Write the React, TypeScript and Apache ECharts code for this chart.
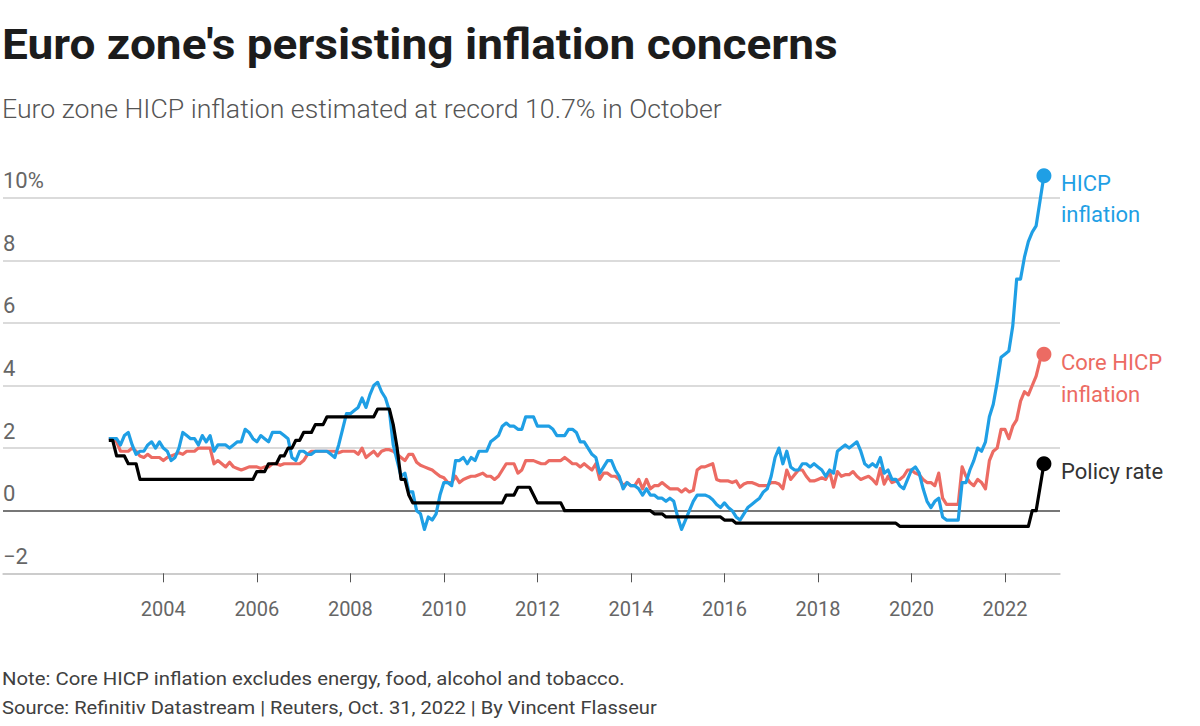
import React, { useEffect, useRef } from "react";
import * as echarts from "echarts";

// Monthly observations, Oct 2002 .. Oct 2022 (end-of-month positions)
const START_YEAR = 2002;
const START_MONTH = 10;

// Euro zone HICP inflation, % y/y
const hicp: number[] = [
  2.3, 2.3, 2.3,
  2.1, 2.4, 2.5, 2.1, 1.8, 1.9, 1.9, 2.1, 2.2, 2.0, 2.2, 2.0,
  1.9, 1.6, 1.7, 2.0, 2.5, 2.4, 2.3, 2.3, 2.1, 2.4, 2.2, 2.4,
  1.9, 2.1, 2.1, 2.1, 2.0, 2.1, 2.2, 2.2, 2.6, 2.5, 2.3, 2.2,
  2.4, 2.3, 2.2, 2.5, 2.5, 2.5, 2.4, 2.3, 1.7, 1.6, 1.9, 1.9,
  1.8, 1.8, 1.9, 1.9, 1.9, 1.9, 1.8, 1.7, 2.1, 2.6, 3.1, 3.1,
  3.2, 3.3, 3.6, 3.3, 3.7, 4.0, 4.1, 3.8, 3.6, 3.2, 2.1, 1.6,
  1.1, 1.2, 0.6, 0.6, 0.0, -0.1, -0.6, -0.2, -0.3, -0.1, 0.5, 0.9,
  0.9, 0.8, 1.6, 1.6, 1.7, 1.5, 1.7, 1.6, 1.9, 1.9, 1.9, 2.2,
  2.3, 2.4, 2.7, 2.8, 2.7, 2.7, 2.6, 2.6, 3.0, 3.0, 3.0, 2.7,
  2.7, 2.7, 2.7, 2.6, 2.4, 2.4, 2.4, 2.6, 2.6, 2.5, 2.2, 2.2,
  2.0, 1.8, 1.7, 1.2, 1.4, 1.6, 1.6, 1.3, 1.1, 0.7, 0.9, 0.8,
  0.8, 0.7, 0.5, 0.7, 0.5, 0.5, 0.4, 0.4, 0.3, 0.4, 0.3, -0.2,
  -0.6, -0.3, 0.0, 0.3, 0.5, 0.5, 0.5, 0.45, 0.35, 0.2, 0.1, 0.25,
  0.1, 0.0, -0.2, -0.3, -0.1, 0.1, 0.2, 0.3, 0.4, 0.6, 0.7, 1.1,
  1.7, 2.0, 1.5, 1.9, 1.4, 1.3, 1.3, 1.5, 1.5, 1.4, 1.5, 1.4,
  1.3, 1.1, 1.3, 1.2, 1.9, 2.0, 2.1, 2.0, 2.1, 2.2, 1.9, 1.5,
  1.4, 1.5, 1.4, 1.7, 1.2, 1.3, 1.0, 1.0, 0.8, 0.7, 1.0, 1.3,
  1.4, 1.2, 0.7, 0.3, 0.1, 0.3, 0.4, -0.2, -0.3, -0.3, -0.3, -0.3,
  0.9, 0.9, 1.3, 1.6, 2.0, 1.9, 2.2, 3.0, 3.4, 4.1, 4.9, 5.0,
  5.1, 5.9, 7.4, 7.4, 8.1, 8.6, 8.9, 9.1, 9.9, 10.7,
];

// Core HICP inflation (ex energy, food, alcohol and tobacco), % y/y
const coreHicp: number[] = [
  2.3, 2.3, 2.2,
  1.9, 1.9, 1.9, 2.0, 1.9, 1.75, 1.7, 1.8, 1.7, 1.7, 1.7, 1.6,
  1.7, 1.75, 1.8, 1.85, 1.8, 1.9, 1.9, 1.9, 2.0, 2.0, 2.0, 2.0,
  1.5, 1.6, 1.5, 1.4, 1.55, 1.4, 1.35, 1.3, 1.35, 1.4, 1.4, 1.4,
  1.35, 1.4, 1.4, 1.5, 1.5, 1.45, 1.5, 1.5, 1.5, 1.5, 1.5, 1.6,
  1.8, 1.9, 1.9, 1.9, 1.9, 1.9, 1.9, 1.9, 1.85, 1.9, 1.9, 1.9,
  1.9, 1.8, 2.0, 1.7, 1.8, 1.9, 1.75, 1.9, 1.95, 1.95, 1.9, 1.8,
  1.7, 1.6, 1.8, 1.8, 1.55, 1.45, 1.4, 1.35, 1.3, 1.2, 1.1, 1.05,
  0.9, 0.9, 1.1, 0.9, 1.0, 1.05, 1.1, 1.1, 1.15, 1.2, 1.1, 1.1,
  1.0, 1.1, 1.3, 1.5, 1.5, 1.5, 1.2, 1.3, 1.6, 1.6, 1.6, 1.55,
  1.5, 1.5, 1.6, 1.6, 1.6, 1.6, 1.7, 1.6, 1.5, 1.5, 1.4, 1.5,
  1.4, 1.3, 1.5, 1.0, 1.2, 1.2, 1.1, 1.1, 1.0, 0.8, 0.9, 0.8,
  0.8, 1.0, 0.7, 1.0, 0.7, 0.8, 0.8, 0.9, 0.8, 0.7, 0.7, 0.7,
  0.6, 0.7, 0.6, 0.65, 1.3, 1.4, 1.4, 1.45, 1.5, 1.0, 0.95, 0.95,
  0.95, 0.9, 0.95, 0.75, 0.85, 0.9, 0.9, 0.85, 0.8, 0.8, 0.8, 0.9,
  0.9, 0.85, 0.7, 1.3, 1.0, 1.15, 1.3, 1.3, 1.1, 0.95, 0.95, 1.0,
  1.05, 1.0, 1.25, 0.75, 1.25, 1.1, 1.15, 1.15, 1.25, 1.1, 1.0, 1.05,
  1.1, 1.0, 0.85, 1.35, 0.85, 1.1, 0.9, 0.95, 1.0, 1.1, 1.3, 1.3,
  1.2, 1.15, 1.0, 0.9, 0.9, 0.8, 1.2, 0.4, 0.2, 0.2, 0.2, 0.2,
  1.4, 1.1, 0.9, 0.8, 1.0, 0.9, 0.7, 1.6, 1.9, 2.0, 2.6, 2.6,
  2.3, 2.7, 2.9, 3.5, 3.8, 3.7, 4.0, 4.3, 4.8, 5.0,
];

// ECB policy (deposit facility) rate, %
const policyRate: number[] = [
  2.25, 2.25, 1.75,
  1.75, 1.75, 1.5, 1.5, 1.5, 1.0, 1.0, 1.0, 1.0, 1.0, 1.0, 1.0,
  1.0, 1.0, 1.0, 1.0, 1.0, 1.0, 1.0, 1.0, 1.0, 1.0, 1.0, 1.0,
  1.0, 1.0, 1.0, 1.0, 1.0, 1.0, 1.0, 1.0, 1.0, 1.0, 1.0, 1.25,
  1.25, 1.25, 1.5, 1.5, 1.5, 1.75, 1.75, 2.0, 2.0, 2.25, 2.25, 2.5,
  2.5, 2.5, 2.75, 2.75, 2.75, 3.0, 3.0, 3.0, 3.0, 3.0, 3.0, 3.0,
  3.0, 3.0, 3.0, 3.0, 3.0, 3.0, 3.25, 3.25, 3.25, 3.25, 2.75, 2.0,
  1.0, 1.0, 0.5, 0.25, 0.25, 0.25, 0.25, 0.25, 0.25, 0.25, 0.25, 0.25,
  0.25, 0.25, 0.25, 0.25, 0.25, 0.25, 0.25, 0.25, 0.25, 0.25, 0.25, 0.25,
  0.25, 0.25, 0.25, 0.5, 0.5, 0.5, 0.75, 0.75, 0.75, 0.75, 0.5, 0.25,
  0.25, 0.25, 0.25, 0.25, 0.25, 0.25, 0.0, 0.0, 0.0, 0.0, 0.0, 0.0,
  0.0, 0.0, 0.0, 0.0, 0.0, 0.0, 0.0, 0.0, 0.0, 0.0, 0.0, 0.0,
  0.0, 0.0, 0.0, 0.0, 0.0, -0.1, -0.1, -0.1, -0.2, -0.2, -0.2, -0.2,
  -0.2, -0.2, -0.2, -0.2, -0.2, -0.2, -0.2, -0.2, -0.2, -0.2, -0.2, -0.3,
  -0.3, -0.3, -0.4, -0.4, -0.4, -0.4, -0.4, -0.4, -0.4, -0.4, -0.4, -0.4,
  -0.4, -0.4, -0.4, -0.4, -0.4, -0.4, -0.4, -0.4, -0.4, -0.4, -0.4, -0.4,
  -0.4, -0.4, -0.4, -0.4, -0.4, -0.4, -0.4, -0.4, -0.4, -0.4, -0.4, -0.4,
  -0.4, -0.4, -0.4, -0.4, -0.4, -0.4, -0.4, -0.4, -0.5, -0.5, -0.5, -0.5,
  -0.5, -0.5, -0.5, -0.5, -0.5, -0.5, -0.5, -0.5, -0.5, -0.5, -0.5, -0.5,
  -0.5, -0.5, -0.5, -0.5, -0.5, -0.5, -0.5, -0.5, -0.5, -0.5, -0.5, -0.5,
  -0.5, -0.5, -0.5, -0.5, -0.5, -0.5, 0.0, 0.0, 0.75, 1.5,
];

const xTickYears = [2004, 2006, 2008, 2010, 2012, 2014, 2016, 2018, 2020, 2022];

const TITLE = "Euro zone's persisting inflation concerns";
const SUBTITLE = "Euro zone HICP inflation estimated at record 10.7% in October";
const NOTE = "Note: Core HICP inflation excludes energy, food, alcohol and tobacco.";
const SOURCE = "Source: Refinitiv Datastream | Reuters, Oct. 31, 2022 | By Vincent Flasseur";

const BLUE = "#1f9fe5";
const RED = "#ec6b63";
const BLACK = "#000000";
const FONT = "Roboto, 'Noto Sans', sans-serif";

function toPoints(values: number[]): [number, number][] {
  return values.map((v, i) => [START_YEAR + (START_MONTH + i) / 12, v]);
}

function lastPoint(values: number[]): [number, number] {
  const i = values.length - 1;
  return [START_YEAR + (START_MONTH + i) / 12, values[i]];
}

export default function App() {
  const ref = useRef<HTMLDivElement>(null);

  useEffect(() => {
    if (!ref.current) return;
    const chart = echarts.init(ref.current, undefined, { renderer: "svg" });

    const lineSeries = (name: string, values: number[], color: string, z: number) => ({
      name,
      type: "line",
      data: toPoints(values),
      showSymbol: false,
      symbol: "none",
      clip: false,
      z,
      lineStyle: { color, width: 3.2, join: "round" },
      itemStyle: { color },
    });

    const dotSeries = (name: string, values: number[], color: string, z: number) => ({
      name: name + " latest",
      type: "scatter",
      data: [lastPoint(values)],
      symbolSize: 15,
      clip: false,
      z,
      itemStyle: { color, opacity: 1 },
    });

    const textEl = (
      text: string,
      x: number,
      y: number,
      size: number,
      fill: string,
      weight: any = "normal",
      scaleX = 1
    ) => ({
      type: "text",
      x,
      y,
      scaleX,
      style: {
        text,
        fill,
        fontSize: size,
        fontFamily: FONT,
        fontWeight: weight,
        align: "left",
        verticalAlign: "middle",
      },
    });

    chart.setOption({
      animation: false,
      backgroundColor: "#ffffff",
      grid: { left: 2, right: 140, top: 197.7, bottom: 152.7, containLabel: false },
      xAxis: {
        type: "value",
        min: 2000.5705,
        max: 2023.177,
        axisLine: { show: true, onZero: false, lineStyle: { color: "#c8c8c8", width: 1.5 } },
        axisTick: { show: true, customValues: xTickYears, length: 9, lineStyle: { color: "#555555", width: 1 } },
        axisLabel: {
          customValues: xTickYears,
          fontSize: 20,
          color: "#666666",
          margin: 26,
          fontFamily: FONT,
          formatter: (v: number) => String(Math.round(v)),
        },
        splitLine: { show: false },
      },
      yAxis: {
        type: "value",
        min: -2,
        max: 10,
        interval: 2,
        axisLine: { show: false },
        axisTick: { show: false },
        axisLabel: {
          inside: true,
          margin: 0,
          verticalAlign: "bottom",
          padding: [0, 0, 6, 0],
          fontSize: 22,
          color: "#666666",
          fontFamily: FONT,
          formatter: (v: number) => (v === 10 ? "10%" : v < 0 ? "\u2212" + Math.abs(v) : String(v)),
        },
        splitLine: {
          show: true,
          lineStyle: {
            color: ["#cfcfcf", "#4a4a4a", "#cfcfcf", "#cfcfcf", "#cfcfcf", "#cfcfcf", "#cfcfcf"],
            width: 1.5,
          },
        },
      },
      series: [
        lineSeries("Core HICP inflation", coreHicp, RED, 2),
        lineSeries("HICP inflation", hicp, BLUE, 3),
        lineSeries("Policy rate", policyRate, BLACK, 4),
        dotSeries("Core HICP inflation", coreHicp, RED, 5),
        dotSeries("HICP inflation", hicp, BLUE, 5),
        dotSeries("Policy rate", policyRate, BLACK, 5),
      ],
      graphic: [
        textEl(TITLE, 2, 45, 42, "#1c1c1c", "bold", 1.096),
        textEl(SUBTITLE, 2, 109, 25.7, "#555555", 300, 1.038),
        textEl(NOTE, 2, 679, 19, "#404040", "normal", 1.07),
        textEl(SOURCE, 2, 708, 19, "#404040", "normal", 1.06),
        textEl("HICP", 1061, 183.5, 22, BLUE),
        textEl("inflation", 1061, 214.5, 22, BLUE),
        textEl("Core HICP", 1061, 362, 22, RED),
        textEl("inflation", 1061, 394, 22, RED),
        textEl("Policy rate", 1061, 471, 22, "#333333"),
      ],
    });

    return () => chart.dispose();
  }, []);

  return (
    <div
      ref={ref}
      style={{ position: "absolute", left: 0, top: 0, width: 1200, height: 726, background: "#fff" }}
    />
  );
}
